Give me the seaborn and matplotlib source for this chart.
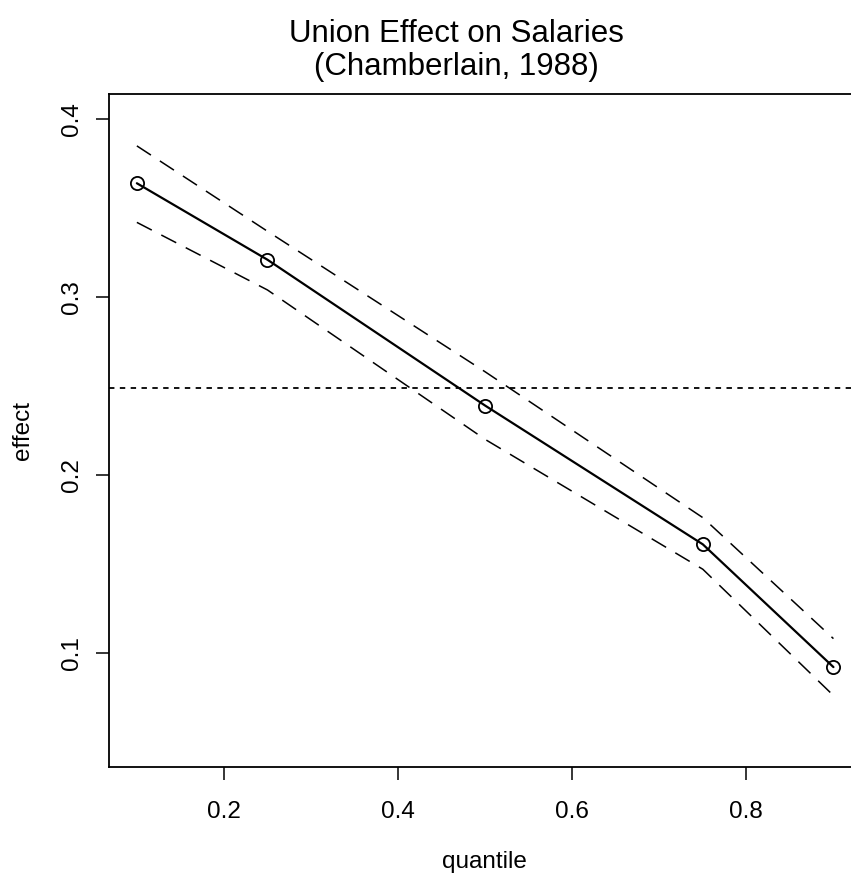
import numpy as np
import pandas as pd
import matplotlib
matplotlib.use("Agg")
import matplotlib.pyplot as plt
import seaborn as sns

sns.set_style("ticks")
plt.rcParams['font.family'] = ['Liberation Sans', 'DejaVu Sans']
plt.rcParams['text.color'] = 'black'
plt.rcParams['xtick.color'] = 'black'
plt.rcParams['ytick.color'] = 'black'

# --- data ---
quantiles = [0.1, 0.25, 0.5, 0.75, 0.9]
effect = [0.364, 0.321, 0.239, 0.161, 0.092]
upper = [0.385, 0.337, 0.258, 0.176, 0.108]
lower = [0.342, 0.304, 0.220, 0.147, 0.076]
ols_effect = 0.249

df = pd.DataFrame({"quantile": quantiles, "effect": effect,
                   "upper": upper, "lower": lower})

W, H = 851, 876
fig = plt.figure(figsize=(W / 100, H / 100), dpi=100)
# plot region in pixels (right edge falls outside the picture, as in the reference)
left, right, top, bottom = 109, 861.3, 94.3, 766.7
ax = fig.add_axes([left / W, 1 - bottom / H, (right - left) / W, (bottom - top) / H])

sns.lineplot(data=df, x="quantile", y="effect", ax=ax, color="black", lw=1.6,
             marker="o", markersize=9.5, markerfacecolor="none",
             markeredgecolor="black", markeredgewidth=1.3)
sns.lineplot(data=df, x="quantile", y="upper", ax=ax, color="black", lw=1.1,
             dashes=(11, 7))
sns.lineplot(data=df, x="quantile", y="lower", ax=ax, color="black", lw=1.1,
             dashes=(11, 7))
ax.axhline(ols_effect, color="black", lw=1.3, ls=(0, (3, 3)))

ax.set_xlim(0.068, 0.932)
ax.set_ylim(0.036, 0.414)
ax.set_xticks([0.2, 0.4, 0.6, 0.8])
ax.set_yticks([0.1, 0.2, 0.3, 0.4])
ax.set_xticklabels(["0.2", "0.4", "0.6", "0.8"])
ax.set_yticklabels(["0.1", "0.2", "0.3", "0.4"], rotation=90, va="center")
ax.tick_params(axis="both", length=9.5, width=1.1, color="black",
               labelcolor="black", labelsize=17.5)
ax.tick_params(axis="x", pad=15.5)
ax.tick_params(axis="y", pad=9)
for s in ax.spines.values():
    s.set_color("black")
    s.set_linewidth(1.3)

ax.set_xlabel("")
ax.set_ylabel("")
fig.text(484 / W, 1 - 862 / H, "quantile", ha="center", va="center", fontsize=17.5)
fig.text(23 / W, 1 - 431 / H, "effect", ha="center", va="center",
         rotation=90, fontsize=17.5)

fig.text(456.5 / W, 1 - 41.5 / H, "Union Effect on Salaries", ha="center",
         va="baseline", fontsize=22.5)
fig.text(456 / W, 1 - 75.5 / H, "(Chamberlain, 1988)", ha="center",
         va="baseline", fontsize=22.5)

fig.savefig("out.png", dpi=100)
